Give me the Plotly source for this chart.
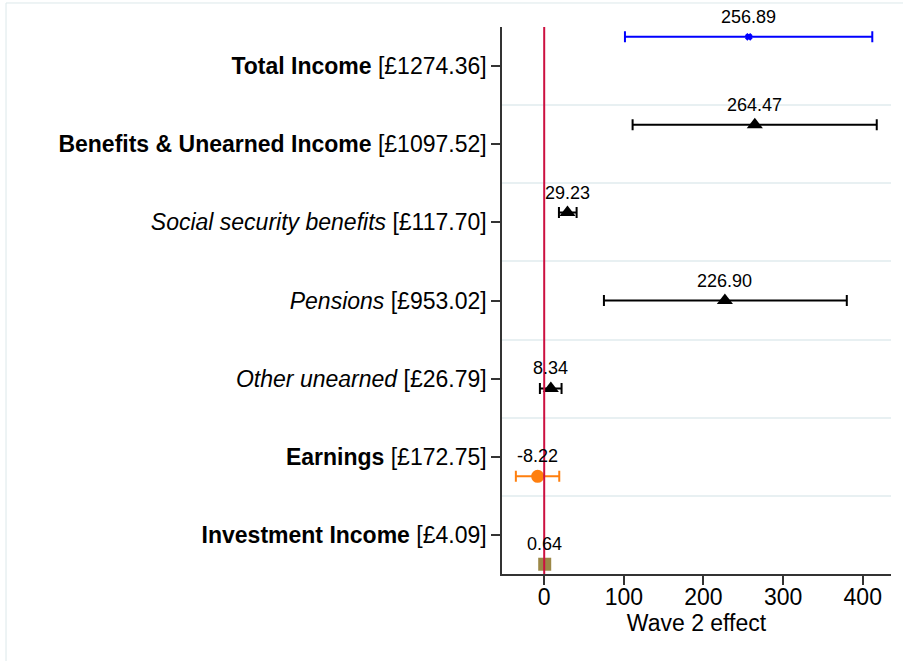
import plotly.graph_objects as go

# ---- data ----
categories = [
    "<b>Total Income</b> [£1274.36]",
    "<b>Benefits & Unearned Income</b> [£1097.52]",
    "<i>Social security benefits</i> [£117.70]",
    "<i>Pensions</i> [£953.02]",
    "<i>Other unearned</i> [£26.79]",
    "<b>Earnings</b> [£172.75]",
    "<b>Investment Income</b> [£4.09]",
]
estimates = [256.89, 264.47, 29.23, 226.90, 8.34, -8.22, 0.64]
ci_low = [101.4, 111.0, 18.5, 75.0, -5.4, -35.6, -1.5]
ci_high = [412.0, 417.6, 40.7, 380.0, 21.8, 18.9, 2.8]
label_text = ["256.89", "264.47", "29.23", "226.90", "8.34", "-8.22", "0.64"]
x_ticks = [0, 100, 200, 300, 400]

# style per row
colors = ["#0000FF", "#000000", "#000000", "#000000", "#000000", "#FF7F0E", "#9C8847"]
symbols = ["x", "triangle-up", "triangle-up", "triangle-up", "triangle-up", "circle", "square"]
sizes = [5, 14, 14, 14, 14, 13, 13]

FONT = "Liberation Sans, Arial, Helvetica, sans-serif"
n = len(categories)
offset = 0.125
ypos = [i + (i - 3) * offset for i in range(n)]

fig = go.Figure()
for i in range(n):
    fig.add_trace(go.Scatter(
        x=[estimates[i]], y=[ypos[i]],
        mode="markers",
        marker=dict(symbol=symbols[i], size=sizes[i], color=colors[i],
                    line=dict(width=1.5 if symbols[i] == "x" else 0, color=colors[i])),
        error_x=dict(type="data", symmetric=False,
                     array=[ci_high[i] - estimates[i]],
                     arrayminus=[estimates[i] - ci_low[i]],
                     color=colors[i], thickness=2, width=5.5),
        showlegend=False, hoverinfo="skip",
    ))
    fig.add_annotation(x=estimates[i], y=ypos[i], text=label_text[i], showarrow=False,
                       yshift=20, font=dict(size=18, color="black", family=FONT))

# zero reference line
fig.add_shape(type="line", xref="x", yref="paper", x0=0, x1=0, y0=0, y1=1,
              line=dict(color="#CC1040", width=2), layer="above")

# outer graph frame
fig.add_shape(type="rect", xref="paper", yref="paper",
              x0=-1.275, x1=1.05, y0=-0.2, y1=1.0439,
              line=dict(color="#DCE8EA", width=1), layer="below")

fig.update_layout(
    width=903, height=661,
    margin=dict(l=502, r=12, t=27, b=87),
    paper_bgcolor="white", plot_bgcolor="white",
    font=dict(family=FONT, size=23, color="black"),
    xaxis=dict(
        range=[-53, 435.5], tickvals=x_ticks, showgrid=False, zeroline=False,
        showline=True, linecolor="#333333", linewidth=1.5,
        ticks="outside", ticklen=9, tickwidth=1.5, tickcolor="#333333",
        tickfont=dict(size=23), ticklabelstandoff=-7,
        title=dict(text="Wave 2 effect", font=dict(size=23), standoff=1),
    ),
    yaxis=dict(
        range=[6.5, -0.5], tickvals=list(range(n)), ticktext=categories,
        showgrid=False, zeroline=False,
        showline=True, linecolor="#333333", linewidth=1.5,
        ticks="outside", ticklen=9, tickwidth=1.5, tickcolor="#333333",
        tickfont=dict(size=23),
        minor=dict(tickvals=[k + 0.5 for k in range(n - 1)], showgrid=True,
                   gridcolor="#E8F0F2", gridwidth=2, ticklen=0),
    ),
)

fig.write_html("out.html", config={"displayModeBar": False},
               post_script="document.body.style.margin='0';")
